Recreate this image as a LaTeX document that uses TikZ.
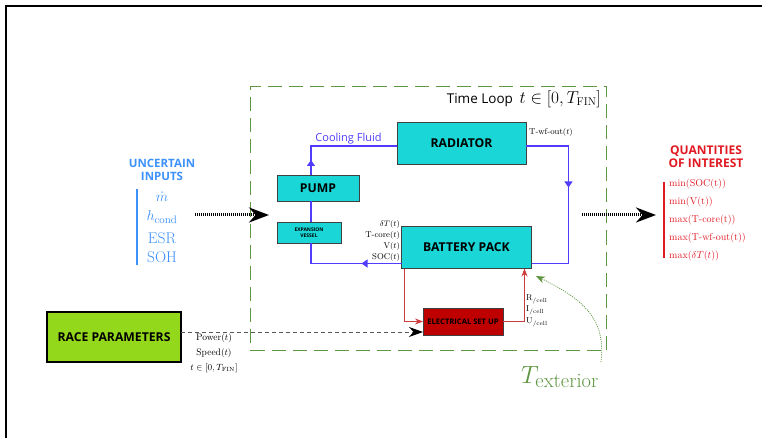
\documentclass[tikz,border=0pt]{standalone}
\usepackage{fontspec}
\setsansfont{Open Sans}
\usetikzlibrary{arrows.meta,decorations.markings,calc}
\definecolor{cyanbox}{RGB}{26,214,214}
\definecolor{flowblue}{RGB}{80,60,250}
\definecolor{loopgreen}{RGB}{95,150,65}
\definecolor{inblue}{RGB}{60,145,250}
\definecolor{qred}{RGB}{225,25,35}
\definecolor{esured}{RGB}{190,0,0}
\definecolor{redline}{RGB}{205,60,60}
\definecolor{racegreen}{RGB}{148,216,28}
\newcommand{\fs}[1]{\fontsize{#1}{#1}\selectfont}
\begin{document}
\begin{tikzpicture}[x=1pt,y=-1pt,
  box/.style={draw=black!75, line width=0.9pt, fill=cyanbox, inner sep=0pt, outer sep=0pt, font=\sffamily\bfseries\fs{12.2}},
  flow/.style={draw=flowblue, line width=1.1pt},
  markat/.style={postaction={decorate, decoration={markings, mark=at position #1 with {\arrow[flowblue]{Triangle[length=6pt,width=8pt]}}}}},
  redl/.style={draw=redline, line width=0.9pt},
  redtip/.style={-{Stealth[length=8pt,width=6pt,redline]}},
  lab/.style={inner sep=0pt, font=\fs{8.5}},
  bigdot/.style={line width=3pt, dash pattern=on 1pt off 1pt, -{Stealth[length=20pt,width=15pt,black]}},
]
\useasboundingbox (0,0) rectangle (762,438);
% frame
\draw[line width=1.8pt] (762,6) -- (6,6) -- (6,440);

% time loop
\node[draw=loopgreen, line width=1.4pt, dash pattern=on 14pt off 7pt, minimum width=356pt, minimum height=264pt, inner sep=0pt] (loop) at (428.5,218.5) {};
\node[anchor=east, inner sep=0pt] (tl) at (601,99) {\sffamily\fs{13.5}Time Loop\enspace\fs{16}$t\in[0,T_{\mathrm{FIN}}]$};

% boxes
\node[box, minimum width=129pt, minimum height=42pt] (rad) at (461.5,143) {RADIATOR};
\node[box, minimum width=82pt, minimum height=26pt] (pump) at (318,188) {PUMP};
\node[box, minimum width=64pt, minimum height=21pt, align=center, font=\sffamily\bfseries\fs{5}] (ves) at (309,232.5) {EXPANSION\\[1pt]VESSEL};
\node[box, minimum width=130pt, minimum height=42pt] (bat) at (466.5,247.5) {BATTERY PACK};
\node[box, fill=esured, minimum width=80pt, minimum height=27pt, font=\sffamily\bfseries\fs{7.6}] (esu) at (463,321.5) {ELECTRICAL SET UP};
\node[box, fill=racegreen, draw=black, line width=1.4pt, minimum width=134pt, minimum height=50pt, font=\sffamily\bfseries\fs{12.2}] (race) at (114,337) {RACE PARAMETERS};

% cooling loop
\coordinate (L) at (311,0);
\node[inner sep=0pt, text=flowblue, font=\sffamily\fs{11}] (cf) at (348.5,139) {Cooling Fluid};
\draw[flow, markat=15pt] (L |- pump.north) |- ([yshift=-3pt]rad.west);
\draw[flow] (L |- ves.north) -- (L |- pump.south);
\draw[flow, markat=40pt] ([yshift=5pt]bat.south west) -| (L |- ves.south);
\draw[flow, markat=84pt] ([yshift=-3pt]rad.east) -| ([xshift=37pt,yshift=5pt]bat.south east) -- ([yshift=5pt]bat.south east);
\node[lab, anchor=west] (two) at (529,133) {T-wf-out$(t)$};

% battery outputs
\node[lab, anchor=east] (l1) at (400,224) {$\delta T(t)$};
\node[lab, anchor=east] (l2) at (400,235.5) {T-core$(t)$};
\node[lab, anchor=east] (l3) at (400,246.5) {V$(t)$};
\node[lab, anchor=east] (l4) at (400,257) {SOC$(t)$};

% electrical
\draw[redl, redtip] ([xshift=3pt]bat.south west) |- (esu.west);
\draw[redl, redtip] (esu.east) -| ([xshift=-7pt]bat.south east);
\node[lab, anchor=west] (r1) at (526,299) {R$_{/\mathrm{cell}}$};
\node[lab, anchor=west] (r2) at (526,310.5) {I$_{/\mathrm{cell}}$};
\node[lab, anchor=west] (r3) at (526,322) {U$_{/\mathrm{cell}}$};

% race parameters
\coordinate (esuin) at ([yshift=-10.5pt]esu.west);
\draw[draw=black!65, line width=1pt, dash pattern=on 4pt off 3pt, -{Stealth[length=14pt,width=10pt,black]}] (race.east |- esuin) -- (esuin);
\node[lab, font=\fs{9.5}] (p1) at (214,338) {Power$(t)$};
\node[lab, font=\fs{9.5}] (p2) at (214,353) {Speed$(t)$};
\node[lab, font=\fs{9}] (p3) at (214,368) {$t\in[0,T_{\mathrm{FIN}}]$};

% exterior temperature
\node[inner sep=0pt, text=loopgreen, font=\fs{25.5}] (text) at (560,377) {$T_{\hbox{\fs{20.5}exterior}}$};
\coordinate (tes) at (601,362);
\draw[loopgreen, line width=0.8pt, dash pattern=on 1pt off 1.2pt, -{Stealth[length=9pt,width=7pt,loopgreen]}] (tes) .. controls (606,320) and (585,300) .. (536,276);

% uncertain inputs
\node[inner sep=0pt, align=center, text=inblue, font=\sffamily\bfseries\fs{11.5}] (unc) at (162,170) {UNCERTAIN\\[1pt]INPUTS};
\draw[inblue, line width=2pt] (137,189) -- (137,265);
\node[inner sep=0pt, anchor=north, align=center, text=inblue, font=\fontsize{15.5}{19}\selectfont] (uin) at (162,192) {$\dot m$\\$h_{\mathrm{cond}}$\\[4pt]ESR\\SOH};
\coordinate (a1) at (195,215);
\coordinate (a2) at (269,215);
\draw[bigdot] (a1) -- (a2);

% quantities of interest
\coordinate (b1) at (582,215);
\coordinate (b2) at (656,215);
\draw[bigdot] (b1) -- (b2);
\node[inner sep=0pt, align=center, text=qred, font=\sffamily\bfseries\fs{12}] (qoi) at (706,157) {QUANTITIES\\[1pt]OF INTEREST};
\draw[qred, line width=2.4pt] (664,182) -- (664,258);
\node[lab, anchor=west, text=qred, font=\fs{10}] (q1) at (669,184) {min(SOC(t))};
\node[lab, anchor=west, text=qred, font=\fs{10}] (q2) at (669,202) {min(V(t))};
\node[lab, anchor=west, text=qred, font=\fs{10}] (q3) at (669,220) {max(T-core(t))};
\node[lab, anchor=west, text=qred, font=\fs{10}] (q4) at (669,238) {max(T-wf-out(t))};
\node[lab, anchor=west, text=qred, font=\fs{10}] (q5) at (669,256) {max($\delta T(t)$)};
\end{tikzpicture}
\end{document}
